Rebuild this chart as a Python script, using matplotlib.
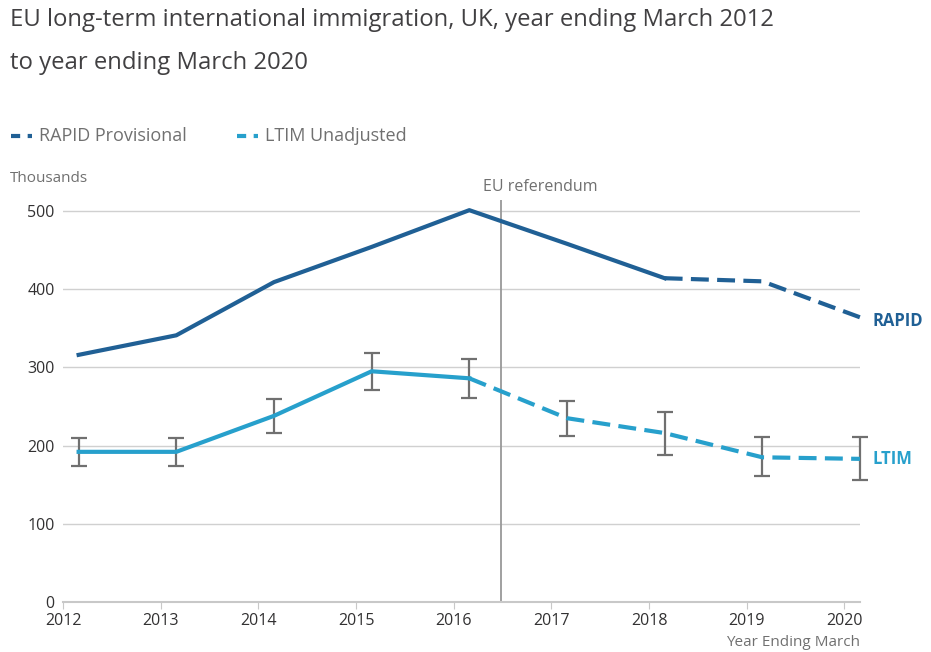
import numpy as np
import matplotlib.pyplot as plt

plt.rcParams['font.family'] = ['Open Sans', 'DejaVu Sans']

# year ending March, plotted on a calendar-year axis
years = np.array([2012, 2013, 2014, 2015, 2016, 2017, 2018, 2019, 2020])
x = years + 0.16

rapid = np.array([316, 341, 409, 454, 501, 458, 414, 410, 364])
ltim = np.array([192, 192, 238, 295, 286, 235, 216, 185, 183])
ltim_upper = np.array([210, 210, 260, 318, 311, 257, 243, 211, 211])
ltim_lower = np.array([174, 174, 216, 271, 261, 212, 188, 161, 156])

rapid_solid_until = 6   # provisional from YE Mar 2018 onwards
ltim_solid_until = 4    # dashed after YE Mar 2016
referendum = 2016.48

dark_blue = '#206095'
light_blue = '#27a0cc'
grey = '#707070'

fig = plt.figure(figsize=(9.31, 6.52), dpi=100)
ax = fig.add_axes([63/931, 1-602/652, (860-63)/931, 402/652])

# error bars first so the line sits on top
eb = ax.errorbar(x, ltim, yerr=[ltim - ltim_lower, ltim_upper - ltim],
                 fmt='none', ecolor=grey, elinewidth=1.6, capsize=6, capthick=1.6, zorder=2)
for part in eb.lines[1] + eb.lines[2]:
    part.set_clip_on(False)

ax.plot(x[:rapid_solid_until + 1], rapid[:rapid_solid_until + 1], color=dark_blue, lw=3, zorder=3)
ax.plot(x[rapid_solid_until:], rapid[rapid_solid_until:], color=dark_blue, lw=3,
        dashes=(4.3, 2), zorder=3, clip_on=False)
ax.plot(x[:ltim_solid_until + 1], ltim[:ltim_solid_until + 1], color=light_blue, lw=3, zorder=3)
ax.plot(x[ltim_solid_until:], ltim[ltim_solid_until:], color=light_blue, lw=3,
        dashes=(4.3, 2), zorder=3, clip_on=False)

ax.axvline(referendum, color='#999999', lw=1.3, zorder=1)
ax.text(referendum - 0.18, 520, 'EU referendum', color=grey, fontsize=11.5,
        ha='left', va='bottom')

ax.text(x[-1] + 0.13, rapid[-1] - 5, 'RAPID', color=dark_blue, fontsize=12,
        fontweight='bold', ha='left', va='center')
ax.text(x[-1] + 0.13, ltim[-1], 'LTIM', color=light_blue, fontsize=12,
        fontweight='bold', ha='left', va='center')

ax.set_xlim(2012, x[-1])
ax.set_ylim(0, 514)
ax.set_xticks(years)
ax.set_xticklabels([str(y) for y in years])
ax.set_yticks([0, 100, 200, 300, 400, 500])
ax.grid(axis='y', color='#d0d0d0', lw=1)
ax.set_axisbelow(True)
for s in ['top', 'right', 'left']:
    ax.spines[s].set_visible(False)
ax.spines['bottom'].set_color('#c8c8c8')
ax.spines['bottom'].set_linewidth(1.5)
ax.tick_params(axis='x', length=5, color='#c8c8c8', labelsize=11.5, labelcolor='#323132', pad=3)
ax.tick_params(axis='y', length=0, labelsize=11.5, labelcolor='#323132', pad=6)

fig.text(10/931, 1-20/652, 'EU long-term international immigration, UK, year ending March 2012',
         fontsize=17.2, color='#414042', ha='left', va='center')
fig.text(10/931, 1-63/652, 'to year ending March 2020',
         fontsize=17.2, color='#414042', ha='left', va='center')
fig.text(10/931, 1-178/652, 'Thousands', fontsize=11, color=grey, ha='left', va='center')
fig.text(860/931, 1-643/652, 'Year Ending March', fontsize=11, color=grey, ha='right', va='center')

# legend drawn as figure text with dashed swatches
for lx, col, label in [(11, dark_blue, 'RAPID Provisional'), (237, light_blue, 'LTIM Unadjusted')]:
    fig.add_artist(plt.Line2D([lx/931, (lx+21)/931], [1-136/652, 1-136/652], color=col,
                              lw=3, dashes=(2.2, 1.8), transform=fig.transFigure))
    fig.text((lx+28)/931, 1-136/652, label, fontsize=13, color=grey, ha='left', va='center')

fig.savefig('out.png', dpi=100)
